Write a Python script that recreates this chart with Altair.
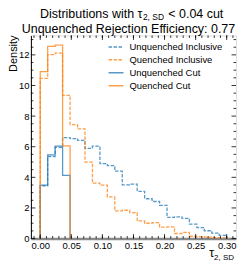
import altair as alt
import pandas as pd

# ---------------- data ----------------
bin_edges = [0.000, 0.012, 0.024, 0.036, 0.048, 0.060, 0.072, 0.084, 0.096, 0.108,
             0.120, 0.132, 0.144, 0.156, 0.168, 0.180, 0.192, 0.204, 0.216, 0.228,
             0.240, 0.252, 0.264, 0.276, 0.288, 0.300]
unquenched_inclusive = [3.45, 5.36, 5.96, 6.60, 6.53, 6.42, 5.89, 6.04, 4.90, 4.77,
                        4.40, 3.51, 3.55, 3.08, 2.60, 2.42, 2.17, 1.38, 1.42, 1.32,
                        0.94, 0.72, 0.51, 0.36, 0.21]
quenched_inclusive = [10.47, 12.02, 12.12, 9.36, 7.45, 7.17, 5.00, 3.62, 3.49, 2.72,
                      1.81, 1.85, 1.70, 1.15, 1.00, 1.04, 0.75, 0.76, 0.33, 0.40,
                      0.15, 0.12, 0.10, 0.06, 0.04]
unquenched_cut = [3.49, 5.47, 6.04, 4.13]
quenched_cut = [10.90, 12.55, 12.64, 6.05]

series_names = ["Unquenched Inclusive", "Quenched Inclusive", "Unquenched Cut", "Quenched Cut"]
series_values = [unquenched_inclusive, quenched_inclusive, unquenched_cut, quenched_cut]
series_colors = ["#1f77b4", "#ff7f0e", "#1f77b4", "#ff7f0e"]
series_dashes = [[3.5, 1.5], [3.5, 1.5], [1, 0], [1, 0]]

x_major_ticks = [0.00, 0.05, 0.10, 0.15, 0.20, 0.25, 0.30]
x_minor_ticks = [-0.01, 0.00, 0.01, 0.02, 0.03, 0.04, 0.05, 0.06, 0.07, 0.08, 0.09, 0.10,
                 0.11, 0.12, 0.13, 0.14, 0.15, 0.16, 0.17, 0.18, 0.19, 0.20, 0.21, 0.22,
                 0.23, 0.24, 0.25, 0.26, 0.27, 0.28, 0.29, 0.30, 0.31]
y_major_ticks = [0, 2, 4, 6, 8, 10, 12]
y_minor_ticks = [0.5, 1, 1.5, 2.5, 3, 3.5, 4.5, 5, 5.5, 6.5, 7, 7.5, 8.5, 9, 9.5,
                 10.5, 11, 11.5, 12.5, 13]

title_line1 = ["Distributions with τ", "2, SD", "< 0.04 cut"]
title_line2 = "Unquenched Rejection Efficiency: 0.77"
x_title = ["τ", "2, SD"]
y_title = "Density"

x_domain = [-0.015, 0.315]
y_domain = [0, 13.27]

W, H = 206, 204
FONT = "Liberation Sans"

# ---------------- build step-histogram table ----------------
rows = []
for name, vals in zip(series_names, series_values):
    n = len(vals)
    order = 0
    rows.append({"series": name, "x": bin_edges[0], "y": 0.0, "order": order})
    for i, v in enumerate(vals):
        order += 1
        rows.append({"series": name, "x": bin_edges[i], "y": v, "order": order})
    order += 1
    rows.append({"series": name, "x": bin_edges[n], "y": vals[-1], "order": order})
    order += 1
    rows.append({"series": name, "x": bin_edges[n], "y": 0.0, "order": order})
df = pd.DataFrame(rows)

x_axis = alt.Axis(values=x_major_ticks, format=".2f", ticks=False, grid=False, title=None,
                  labelFontSize=9.5, labelPadding=2, labelColor="black",
                  domainColor="#8a8a8a", domainWidth=2.5, labelFont=FONT)
y_axis = alt.Axis(values=y_major_ticks, ticks=False, grid=False, title=None,
                  labelFontSize=9.5, labelPadding=2, labelColor="black",
                  domainColor="black", domainWidth=1, labelFont=FONT)
xs = alt.Scale(domain=x_domain, nice=False, zero=False)
ys = alt.Scale(domain=y_domain, nice=False, zero=False)

leg = alt.Legend(title=None, orient="none", legendX=77, legendY=3, symbolType="stroke",
                 symbolSize=225, symbolStrokeWidth=1.5, symbolOpacity=0.75,
                 labelFontSize=9.5, labelFont=FONT, labelOffset=5, rowPadding=-3,
                 labelColor="black")

hist = alt.Chart(df).mark_line(interpolate="step-after", strokeWidth=1.3, opacity=0.75).encode(
    x=alt.X("x:Q", scale=xs, axis=x_axis),
    y=alt.Y("y:Q", scale=ys, axis=y_axis),
    color=alt.Color("series:N", scale=alt.Scale(domain=series_names, range=series_colors), legend=leg),
    strokeDash=alt.StrokeDash("series:N", scale=alt.Scale(domain=series_names, range=series_dashes), legend=leg),
    order=alt.Order("order:Q"),
)

dfx_maj = pd.DataFrame({"x": x_major_ticks})
dfx_min = pd.DataFrame({"x": x_minor_ticks})
dfy_maj = pd.DataFrame({"y": y_major_ticks})
dfy_min = pd.DataFrame({"y": y_minor_ticks})

MAJ, MIN = 4.5, 2.5

def xticks(d, L):
    bottom = alt.Chart(d).mark_rule(color="black", strokeWidth=0.8).encode(
        x=alt.X("x:Q", scale=xs, axis=x_axis), y=alt.value(H), y2=alt.value(H - L))
    top = alt.Chart(d).mark_rule(color="black", strokeWidth=0.8).encode(
        x=alt.X("x:Q", scale=xs, axis=x_axis), y=alt.value(0), y2=alt.value(L))
    return [bottom, top]

def yticks(d, L):
    left = alt.Chart(d).mark_rule(color="black", strokeWidth=0.8).encode(
        y=alt.Y("y:Q", scale=ys, axis=y_axis), x=alt.value(0), x2=alt.value(L))
    right = alt.Chart(d).mark_rule(color="black", strokeWidth=0.8).encode(
        y=alt.Y("y:Q", scale=ys, axis=y_axis), x=alt.value(W), x2=alt.value(W - L))
    return [left, right]

tick_layers = xticks(dfx_maj, MAJ) + xticks(dfx_min, MIN) + yticks(dfy_maj, MAJ) + yticks(dfy_min, MIN)

def txt(s, x, y, size, align="left", baseline="alphabetic", angle=0):
    return alt.Chart(pd.DataFrame({"t": [s]})).mark_text(
        align=align, baseline=baseline, fontSize=size, font=FONT, color="black", angle=angle
    ).encode(text="t:N", x=alt.value(x), y=alt.value(y))

tau_x = 112
t1a = txt(title_line1[0], tau_x, -18, 12.5, align="right")
t1b = txt(title_line1[1], tau_x + 0.5, -16, 8.5)
t1c = txt(title_line1[2], tau_x + 26, -18, 12.5)
t2 = txt(title_line2, 98, -2.5, 12.5, align="center")
xt_a = txt(x_title[0], W - 22, 223, 12.5, align="right")
xt_b = txt(x_title[1], W - 22, 226, 8)
yt = txt(y_title, -23, 0, 11, align="right", baseline="top", angle=270)

chart = alt.layer(hist, *tick_layers, t1a, t1b, t1c, t2, xt_a, xt_b, yt).properties(
    width=W, height=H,
    autosize=alt.AutoSizeParams(type="none"),
    padding={"left": 23, "top": 27, "right": 5, "bottom": 26},
).configure_view(stroke="black", strokeWidth=1).configure(font=FONT)

chart.save("out.html", embed_options={"renderer": "svg", "actions": False})
